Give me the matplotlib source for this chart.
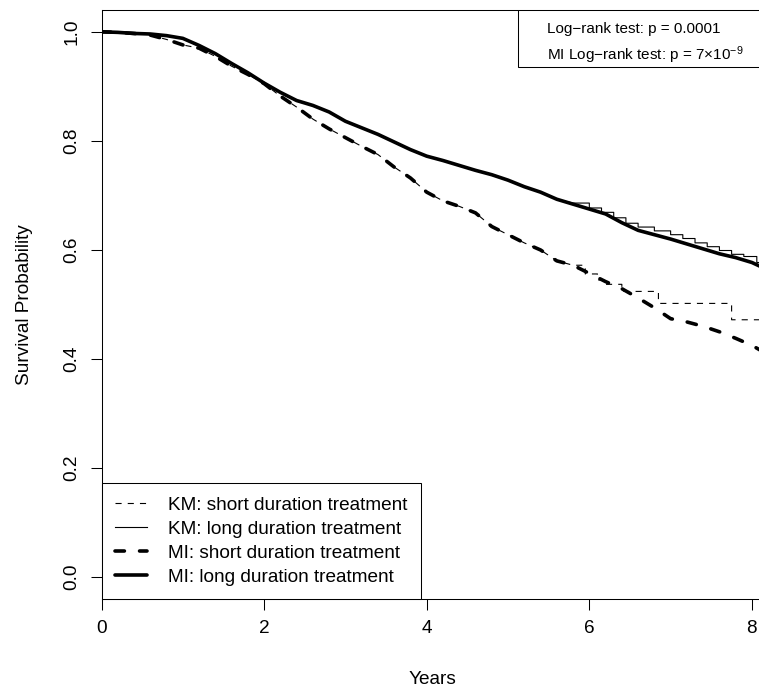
import matplotlib
matplotlib.use("Agg")
import matplotlib.pyplot as plt
from matplotlib.patches import Rectangle
from matplotlib.lines import Line2D

plt.rcParams['font.family'] = ['Liberation Sans', 'DejaVu Sans']
plt.rcParams['mathtext.fontset'] = 'custom'
plt.rcParams['mathtext.rm'] = 'Liberation Sans'
plt.rcParams['mathtext.it'] = 'Liberation Sans:italic'

# time grid (years) shared by the MI curves
mi_time = [0.0, 0.2, 0.4, 0.6, 0.8, 1.0, 1.2, 1.4, 1.6, 1.8, 2.0, 2.2, 2.4, 2.6,
           2.8, 3.0, 3.2, 3.4, 3.6, 3.8, 4.0, 4.2, 4.4, 4.6, 4.8, 5.0, 5.2, 5.4,
           5.6, 5.8, 6.0, 6.2, 6.4, 6.6, 6.8, 7.0, 7.2, 7.4, 7.6, 7.8, 8.0, 8.13]
mi_long = [1.000, 0.999, 0.997, 0.996, 0.993, 0.988, 0.975, 0.960, 0.942, 0.925,
           0.906, 0.889, 0.874, 0.865, 0.853, 0.836, 0.824, 0.812, 0.798, 0.784,
           0.772, 0.764, 0.755, 0.746, 0.738, 0.728, 0.716, 0.706, 0.693, 0.684,
           0.675, 0.666, 0.650, 0.636, 0.628, 0.620, 0.611, 0.602, 0.593, 0.586,
           0.577, 0.568]
mi_short = [1.000, 0.999, 0.997, 0.994, 0.986, 0.976, 0.970, 0.955, 0.937, 0.922,
            0.905, 0.882, 0.862, 0.840, 0.822, 0.806, 0.790, 0.775, 0.752, 0.732,
            0.706, 0.690, 0.680, 0.668, 0.643, 0.628, 0.613, 0.600, 0.580, 0.572,
            0.557, 0.542, 0.529, 0.512, 0.494, 0.474, 0.468, 0.460, 0.450, 0.438,
            0.425, 0.414]

# Kaplan-Meier curves: they run under the MI curves up to ~5.8 years,
# after that the step corners
km_long_tail_time = [6.0, 6.0, 6.15, 6.15, 6.3, 6.3, 6.45, 6.45, 6.6, 6.6, 6.8,
                     6.8, 7.0, 7.0, 7.15, 7.15, 7.3, 7.3, 7.45, 7.45, 7.6, 7.6,
                     7.75, 7.75, 7.9, 7.9, 8.06, 8.06, 8.13]
km_long_tail = [0.686, 0.677, 0.677, 0.669, 0.669, 0.659, 0.659, 0.649, 0.649,
                0.642, 0.642, 0.635, 0.635, 0.628, 0.628, 0.621, 0.621, 0.613,
                0.613, 0.606, 0.606, 0.599, 0.599, 0.592, 0.592, 0.588, 0.588,
                0.577, 0.577]
km_short_tail_time = [5.95, 5.95, 6.1, 6.1, 6.2, 6.2, 6.4, 6.4, 6.85, 6.85,
                      7.75, 7.75, 8.13]
km_short_tail = [0.572, 0.556, 0.556, 0.545, 0.545, 0.537, 0.537, 0.524, 0.524,
                 0.502, 0.502, 0.472, 0.472]

km_long_time = mi_time[:30] + km_long_tail_time
km_long = mi_long[:29] + [0.686] + km_long_tail
km_short_time = mi_time[:30] + km_short_tail_time
km_short = mi_short[:30] + km_short_tail

legend_labels = ["KM: short duration treatment", "KM: long duration treatment",
                 "MI: short duration treatment", "MI: long duration treatment"]
test_lines = ["Log\u2212rank test: p = 0.0001",
              r"MI Log$-$rank test: p = 7$\times$10$^{-9}$"]

fig = plt.figure(figsize=(7.59, 6.94), dpi=100)
ax = fig.add_axes([101.5 / 759, 95 / 694, 661 / 759, 589 / 694])

thin = dict(color='black', lw=0.8, dash_capstyle='butt')
thick = dict(color='black', lw=2.6, dash_capstyle='round', solid_capstyle='round')

ax.plot(km_short_time, km_short, dashes=(5.5, 5.5), **thin)
ax.plot(km_long_time, km_long, **thin)
ax.plot(mi_time, mi_short, dashes=(2.6, 4.2), **thick)
ax.plot(mi_time, mi_long, **thick)

ax.set_xlim(0, 8.13)
ax.set_ylim(-0.04, 1.04)
ax.set_xticks([0, 2, 4, 6, 8])
ax.set_yticks([0.0, 0.2, 0.4, 0.6, 0.8, 1.0])
ax.set_yticklabels(["0.0", "0.2", "0.4", "0.6", "0.8", "1.0"], rotation=90, va='center')
ax.tick_params(length=8, width=0.75, labelsize=13.7, pad=7)
for s in ax.spines.values():
    s.set_linewidth(0.75)

ax.set_xlabel("Years", fontsize=13.7, va='center')
ax.xaxis.set_label_coords(0.5, -0.1375)
ax.set_ylabel("Survival Probability", fontsize=13.7, va='center')
ax.yaxis.set_label_coords(-0.117, 0.5)

handles = [Line2D([], [], dashes=(5.5, 5.5), **thin),
           Line2D([], [], **thin),
           Line2D([], [], dashes=(2.6, 4.2), **thick),
           Line2D([], [], **thick)]
leg = ax.legend(handles, legend_labels, loc='lower left', borderaxespad=0,
                fontsize=13.7, handlelength=1.7, handletextpad=1.1,
                borderpad=0.7, labelspacing=0.35, fancybox=False,
                edgecolor='black', framealpha=1)
leg.get_frame().set_linewidth(0.75)

ax.add_patch(Rectangle((0.630, 0.903), 0.37, 0.097, transform=ax.transAxes,
                       facecolor='white', edgecolor='black', lw=0.75, zorder=5))
ax.text(0.674, 0.968, test_lines[0], transform=ax.transAxes, fontsize=11,
        va='center', ha='left', zorder=6)
ax.text(0.674, 0.924, test_lines[1], transform=ax.transAxes, fontsize=11,
        va='center', ha='left', zorder=6)

fig.savefig("out.png", dpi=100)
